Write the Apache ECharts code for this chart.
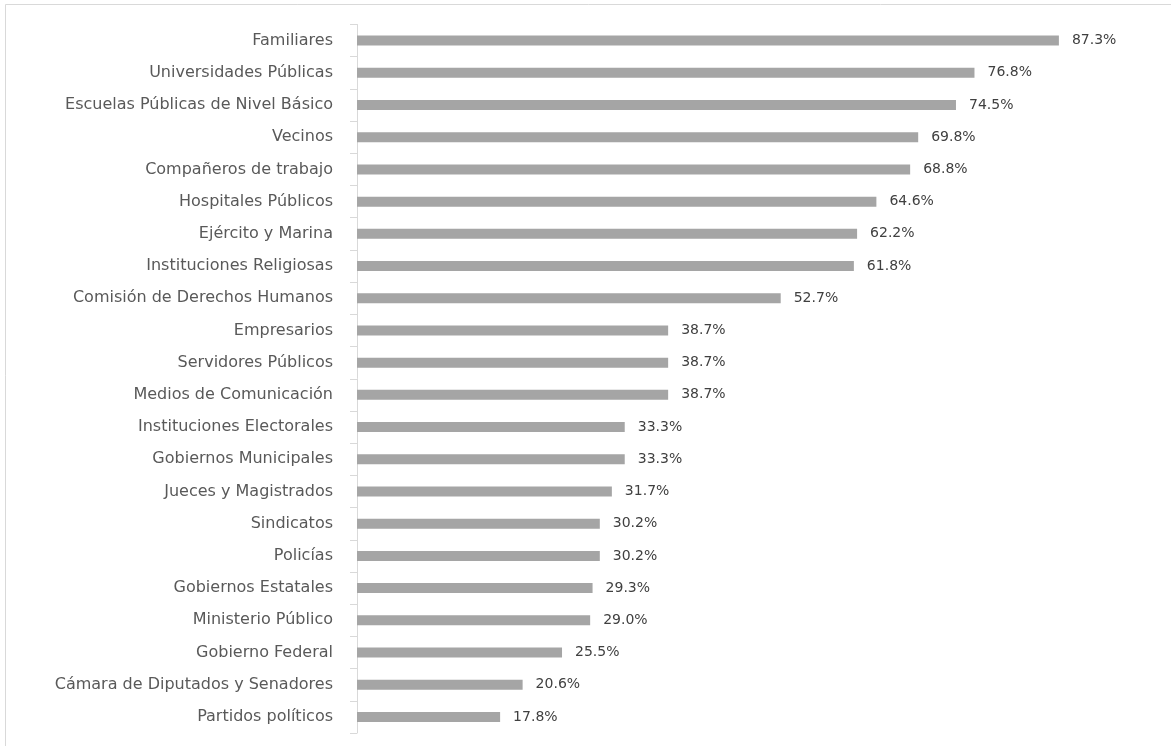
<!DOCTYPE html>
<html><head><meta charset="utf-8">
<script src="https://cdn.jsdelivr.net/npm/echarts@6/dist/echarts.min.js"></script>
<style>html,body{margin:0;padding:0;background:#fff}#c{width:1171px;height:746px}</style>
</head><body><div id="c"></div>
<script>
const categories = ["Familiares","Universidades Públicas","Escuelas Públicas de Nivel Básico","Vecinos","Compañeros de trabajo","Hospitales Públicos","Ejército y Marina","Instituciones Religiosas","Comisión de Derechos Humanos","Empresarios","Servidores Públicos","Medios de Comunicación","Instituciones Electorales","Gobiernos Municipales","Jueces y Magistrados","Sindicatos","Policías","Gobiernos Estatales","Ministerio Público","Gobierno Federal","Cámara de Diputados y Senadores","Partidos políticos"];
const values = [87.3,76.8,74.5,69.8,68.8,64.6,62.2,61.8,52.7,38.7,38.7,38.7,33.3,33.3,31.7,30.2,30.2,29.3,29.0,25.5,20.6,17.8];

const chart = echarts.init(document.getElementById('c'), null, {renderer:'canvas'});
chart.setOption({
  animation:false,
  backgroundColor:'#fff',
  graphic:[{type:'rect',shape:{x:5.5,y:4.5,width:1300,height:900},style:{fill:'none',stroke:'#d9d9d9',lineWidth:1},silent:true}],
  grid:{left:357,right:10,top:24.5,bottom:13,containLabel:false},
  xAxis:{type:'value',min:0,max:100,show:false},
  yAxis:{type:'category',inverse:true,data:categories,
    axisLine:{show:true,lineStyle:{color:'#d9d9d9',width:1}},
    axisTick:{show:true,length:7,lineStyle:{color:'#d9d9d9'}},
    axisLabel:{margin:24,fontSize:16,color:'#595959',fontFamily:'DejaVu Sans'},
    splitLine:{show:false}},
  series:[{type:'bar',data:values,barWidth:10,itemStyle:{color:'#a5a5a5'},
    label:{show:true,position:'right',distance:13,fontSize:14,color:'#404040',fontFamily:'DejaVu Sans',
      formatter:p=>p.value.toFixed(1)+'%'}}]
});
</script></body></html>
